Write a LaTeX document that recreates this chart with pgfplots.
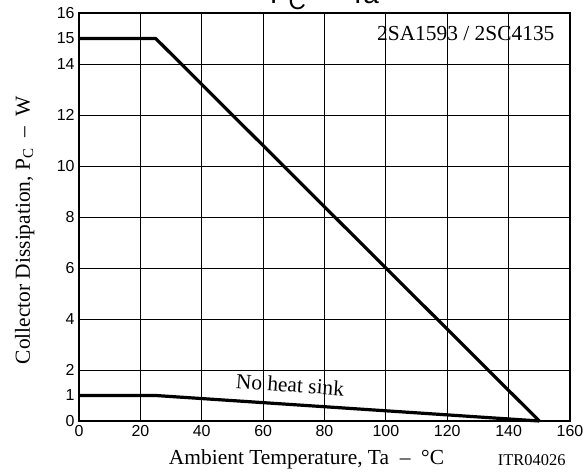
\documentclass[border=0pt]{standalone}
\usepackage{fontspec}
\setmainfont{Liberation Serif}
\setsansfont{Liberation Sans}
\usepackage{pgfplots}
\pgfplotsset{compat=1.18}
\begin{document}
\begin{tikzpicture}
\begin{axis}[
  at={(0,0)}, anchor=south west,
  scale only axis, width=491bp, height=408bp,
  xmin=0, xmax=160, ymin=0, ymax=16,
  xtick={0,20,...,160},
  ytick={0,2,...,16},
  extra y ticks={1,15},
  extra y tick style={grid=none},
  grid=major,
  major grid style={black, line width=0.8pt},
  major tick length=0pt,
  axis line style={line width=1.3pt},
  /pgf/number format/assume math mode=true,
  tick label style={font=\sffamily\fontsize{16}{16}\selectfont},
  xticklabel style={yshift=-1bp},
  yticklabel style={xshift=-1bp},
  xlabel={Ambient Temperature, Ta\enspace–\enspace °C},
  ylabel={Collector Dissipation, P\textsubscript{C}\enspace–\enspace W},
  label style={font=\fontsize{21.5}{21.5}\selectfont},
  xlabel style={at={(rel axis cs:0.5,0)}, anchor=base, xshift=-18bp, yshift=-43bp},
  ylabel style={at={(rel axis cs:0,0.468)}, anchor=base, yshift=49bp},
  clip=false,
]
\addplot[black, line width=3.2bp, line join=miter] coordinates {(0,15) (25,15) (150,0)};
\addplot[black, line width=3.2bp, line join=miter] coordinates {(0,1) (25,1) (150,0)};
\node[anchor=east, font=\fontsize{21.5}{21.5}\selectfont] at (rel axis cs:1,1) [xshift=-12bp, yshift=-21bp] {2SA1593 / 2SC4135};
\node[rotate=-4, font=\fontsize{21.5}{21.5}\selectfont] at (axis cs:68.8,1.42) {No heat sink};
\node[anchor=base east, font=\fontsize{16.5}{16.5}\selectfont] at (rel axis cs:1,0) [xshift=-1bp, yshift=-44bp] {ITR04026};
\node[anchor=base, font=\sffamily\fontsize{28}{28}\selectfont] at (rel axis cs:0.5,1) [yshift=9bp] {P\raisebox{-6bp}{\fontsize{24}{24}\selectfont C}\enspace–\enspace Ta};
\end{axis}
\pgfresetboundingbox
\useasboundingbox (-79bp,-51bp) rectangle (505bp,421bp);
\end{tikzpicture}
\end{document}
